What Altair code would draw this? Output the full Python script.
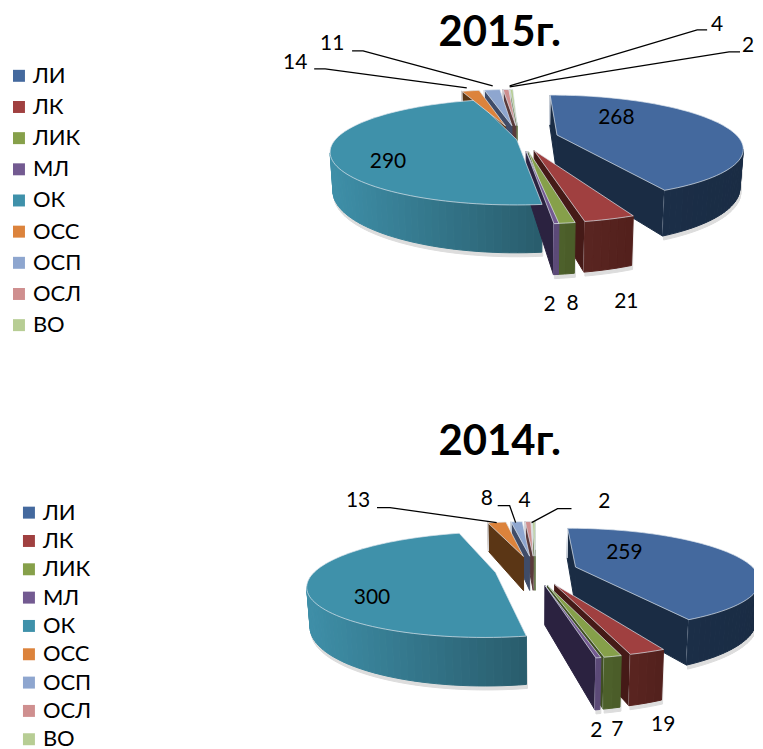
import math
import altair as alt

# ---- values ----
categories = ["ЛИ", "ЛК", "ЛИК", "МЛ", "ОК", "ОСС", "ОСП", "ОСЛ", "ВО"]
values_2015 = [268, 21, 8, 2, 290, 14, 11, 4, 2]
values_2014 = [259, 19, 7, 2, 300, 13, 8, 4, 2]

top_colors = ["#44699e", "#a04040", "#86a04a", "#735a91", "#3f91aa", "#dc833c", "#8ea6cf", "#cf8f8f", "#b7cd94"]
wall_left = ["#1c314c", "#5a2521", "#4e612c", "#5c4a78", "#3e8fa8", "#5c3817", "#4a5a78", "#6b4545", "#7f8f60"]
wall_right = ["#1a2c44", "#52201c", "#4a5c28", "#5c4a78", "#295c6c", "#5c3817", "#4a5a78", "#6b4545", "#7f8f60"]
face_colors = ["#1a2c44", "#451a17", "#3f4f22", "#2b2240", "#295c6c", "#5b3615", "#3f4c68", "#5a3a3a", "#6a7a50"]

FONT = "Lato"
PANEL_W, H1, H2 = 747, 370, 371
MARGIN = 8

# view geometry of each pie: perspective, explosion and per-slice view adjustments
geom_2015 = dict(cx=520, cy=139, b=182, a=50.3, k=0.228, d=37, start=-2,
                 explode=[.215, .22, .22, .22, .016, .3, .3, .3, .3],
                 turn0=[2, 3.5, 4, 2.5, 2, 1, 0, 0, 0],
                 turn1=[.5, 3.5, 4, 2.5, 4, 0, 0, 0, 0],
                 nudge=[(0, -2)] + [(0, 0)] * 8)
geom_2014 = dict(cx=533, cy=570.5, b=180, a=49, k=0.228, d=37, start=0,
                 explode=[.25, .3, .3, .3, .21, .35, .35, .35, .35],
                 turn0=[0, 3.5, 1, 1, 1.5, 0, 0, 0, 0],
                 turn1=[.5, 1, 1, 1, -1, 0, 0, 0, 0],
                 nudge=[(0, 0)] * 5 + [(3, 2)] * 4)

title_2015 = dict(text="2015г.", x=500, y=45)
title_2014 = dict(text="2014г.", x=500, y=455)

labels_2015 = [("268", 617, 117), ("21", 627, 302), ("8", 573, 304), ("2", 550, 305), ("290", 388, 161),
               ("14", 295, 62), ("11", 332, 43), ("4", 718, 24), ("2", 749, 45)]
labels_2014 = [("259", 625, 553), ("19", 664, 726), ("7", 618, 731), ("2", 597, 732), ("300", 372, 599),
               ("13", 358, 501), ("8", 487, 499), ("4", 525, 501), ("2", 605, 502)]

leaders_2015 = [[(314, 68), (325, 68), (467, 87)], [(352, 50), (363, 50), (493, 85)],
                [(708, 29), (698, 29), (510, 85)], [(741, 51), (730, 51), (510, 86)]]
leaders_2014 = [[(377, 508), (390, 508), (497, 523)], [(498, 506), (510, 506), (516, 523)],
                [(572, 509), (558, 509), (532, 523)]]


def lerp_hex(c1, c2, t):
    a = [int(c1[i:i + 2], 16) for i in (1, 3, 5)]
    b = [int(c2[i:i + 2], 16) for i in (1, 3, 5)]
    return "#%02x%02x%02x" % tuple(round(p + (q - p) * t) for p, q in zip(a, b))


def build(values, g, ox, oy):
    def sh(p):
        return [round(p[0] - ox, 2), round(p[1] - oy, 2)]
    def feature(points, fill, stroke=None, width=1.0):
        ring = [sh(p) for p in points] + [sh(points[0])]
        return {"type": "Feature", "geometry": {"type": "Polygon", "coordinates": [ring]},
                "properties": {"fill": fill, "stroke": stroke or fill, "sw": width}}
    total = sum(values)
    def top(i, u, v):
        w = 1 - g["k"] * v
        return (g["cx"] + g["b"] * u / w + g["nudge"][i][0], g["cy"] + g["a"] * v / w + g["nudge"][i][1])
    def bottom(i, u, v):
        x, y = top(i, u, v)
        return (g["cx"] + (x - g["cx"]) * 0.985, y + g["d"] / (1 - g["k"] * v))
    def visible(P, Q, C):
        ex, ey = Q[0] - P[0], Q[1] - P[1]
        return (ex * 1 - ey * 0) * (ex * (C[1] - P[1]) - ey * (C[0] - P[0])) < 0

    tops, slices, angle = [], [], g["start"]
    for i, val in enumerate(values):
        span = 360 * val / total
        a0, a1 = angle, angle + span
        angle = a1
        mid = math.radians((a0 + a1) / 2)
        a0 += g["turn0"][i]
        a1 += g["turn1"][i]
        au, av = g["explode"][i] * math.sin(mid), -g["explode"][i] * math.cos(mid)
        n = max(2, int((a1 - a0) / 2))
        arc = []
        for j in range(n + 1):
            th = math.radians(a0 + (a1 - a0) * j / n)
            arc.append((au + math.sin(th), av - math.cos(th)))
        poly = [top(i, au, av)] + [top(i, *p) for p in arc]
        C = (sum(p[0] for p in poly) / len(poly), sum(p[1] for p in poly) / len(poly))
        slices.append((av - 0.5 * math.cos(mid), i, (au, av), arc, poly, C))
        tops.append({"type": "Feature",
                     "geometry": {"type": "Polygon", "coordinates": [[sh(p) for p in poly] + [sh(poly[0])]]},
                     "properties": {"cat": categories[i]}})

    walls, shadows = [], []
    for _, i, apex, arc, poly, C in sorted(slices):
        for e in (arc[0], arc[-1]):
            P, Q = top(i, *apex), top(i, *e)
            if visible(P, Q, C):
                walls.append(feature([P, Q, bottom(i, *e), bottom(i, *apex)], face_colors[i]))
                walls.append(feature([Q, bottom(i, *e), Q], "#e6ebf2", "#e6ebf2", 0.8))
        xs = [top(i, *p)[0] for p in arc]
        x0, x1 = min(xs), max(xs)
        for p, q in zip(arc, arc[1:]):
            P, Q = top(i, *p), top(i, *q)
            if visible(P, Q, C):
                t = ((P[0] + Q[0]) / 2 - x0) / max(x1 - x0, 1)
                col = lerp_hex(wall_left[i], wall_right[i], t)
                B1, B2 = bottom(i, *p), bottom(i, *q)
                walls.append(feature([P, Q, B2, B1], col))
                shadows.append(feature([P, Q, (B2[0] + 1, B2[1] + 4), (B1[0] + 1, B1[1] + 4)], "#dddddd"))
    return shadows + walls, tops


def panel(values, g, title, labels, leaders, off_y, height, leg_x, leg_y, row_pad):
    proj = dict(type="identity", scale=1, translate=[0, 0])
    walls, tops = build(values, g, MARGIN, off_y)
    wall_layer = alt.Chart(alt.Data(values=walls)).mark_geoshape().encode(
        fill=alt.Fill("properties.fill:N", scale=None, legend=None),
        stroke=alt.Stroke("properties.stroke:N", scale=None, legend=None),
        strokeWidth=alt.StrokeWidth("properties.sw:Q", scale=None, legend=None),
    ).project(**proj)
    top_layer = alt.Chart(alt.Data(values=tops)).mark_geoshape(stroke="#dfe6ee", strokeWidth=0.7).encode(
        color=alt.Color("properties.cat:N", scale=alt.Scale(domain=categories, range=top_colors),
                        legend=alt.Legend(title=None, orient="none", legendX=leg_x - MARGIN, legendY=leg_y - off_y,
                                          symbolType="square", symbolSize=144, symbolStrokeWidth=0,
                                          labelFont=FONT, labelFontSize=22, labelColor="#000000",
                                          rowPadding=row_pad, labelOffset=3, padding=0, labelLimit=200))
    ).project(**proj)
    lead = [{"type": "Feature",
             "geometry": {"type": "LineString", "coordinates": [[p[0] - MARGIN, p[1] - off_y] for p in ln]},
             "properties": {}} for ln in leaders]
    lead_layer = alt.Chart(alt.Data(values=lead)).mark_geoshape(filled=False, stroke="#000000", strokeWidth=1.3).project(**proj)
    lab = [{"t": t, "x": x - MARGIN, "y": y - off_y} for t, x, y in labels]
    text_layer = alt.Chart(alt.Data(values=lab)).mark_text(font=FONT, fontSize=21, color="#000000").encode(
        x=alt.X("x:Q", scale=None, axis=None), y=alt.Y("y:Q", scale=None, axis=None), text="t:N")
    tit = alt.Chart(alt.Data(values=[{"t": title["text"], "x": title["x"] - MARGIN, "y": title["y"] - off_y}])).mark_text(
        font=FONT, fontSize=42, fontWeight="bold", color="#000000", baseline="alphabetic").encode(
        x=alt.X("x:Q", scale=None, axis=None), y=alt.Y("y:Q", scale=None, axis=None), text="t:N")
    return alt.layer(wall_layer, top_layer, lead_layer, text_layer, tit).properties(width=PANEL_W, height=height)


p1 = panel(values_2015, geom_2015, title_2015, labels_2015, leaders_2015, MARGIN, H1, 7, 64, 9.25)
p2 = panel(values_2014, geom_2014, title_2014, labels_2014, leaders_2014, MARGIN + H1, H2, 17, 502, 6.4)

chart = alt.vconcat(p1, p2, spacing=0, padding=0).resolve_scale(color="independent").resolve_legend(color="independent").configure_view(stroke=None)
chart.save("out.html", embed_options={"renderer": "svg", "actions": False})
